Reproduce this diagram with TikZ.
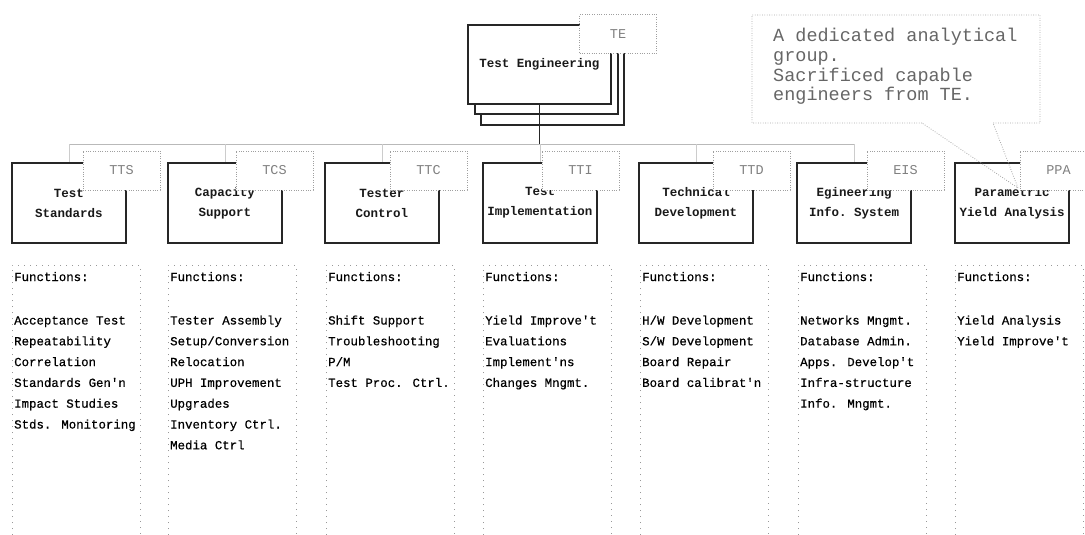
\documentclass[tikz,border=0pt]{standalone}
\usepackage{fontspec}
\setmonofont{Liberation Mono}
\newfontfamily\medmono[FakeBold=0.5]{Liberation Mono}
% a left-aligned column whose baseline is that of its first line
\newcommand{\toplist}[1]{\begin{tabular}[t]{@{}l@{}}#1\end{tabular}}
\begin{document}
\begin{tikzpicture}[x=1pt,y=-1pt,
  unitbox/.style={draw=black!85, line width=1.2pt, fill=white,
    minimum width=114pt, minimum height=80pt, inner sep=0pt, align=center,
    font=\ttfamily\bfseries\fontsize{12.5}{20}\selectfont, text=black!90},
  tebox/.style={draw=black!85, line width=1.2pt, fill=white,
    minimum width=143pt, minimum height=79pt, inner sep=0pt, align=center,
    font=\ttfamily\bfseries\fontsize{12.5}{20}\selectfont, text=black!90},
  tagbox/.style={draw=gray!75, line width=0.8pt, dash pattern=on 0.8pt off 1.6pt,
    fill=white, minimum width=77pt, minimum height=39pt, inner sep=0pt,
    font=\ttfamily\fontsize{13.5}{16}\selectfont, text=black!50},
  fnframe/.style={draw=gray!80, line width=1pt, dash pattern=on 1pt off 5pt},
  fntext/.style={anchor=base west, inner sep=0pt,
    font=\medmono\fontsize{12.4}{20.8}\selectfont, text=black},
  busline/.style={draw=gray!55, line width=0.9pt},
  dropline/.style={draw=gray!40, line width=0.9pt},
  stem/.style={draw=black!85, line width=1.2pt},
  callout/.style={draw=gray!70, line width=0.8pt, dash pattern=on 0.8pt off 1.6pt},
  notetext/.style={anchor=base west, inner sep=0pt,
    font=\ttfamily\fontsize{18.5}{19.7}\selectfont, text=black!60}
]
\useasboundingbox (0,0) rectangle (1085,535);

% bus linking the sections
\coordinate (busL) at (69,144);
\coordinate (busR) at (854,144);
\draw[busline] (busL) -- (busR);

% head of the organisation, drawn as a stack
\node[tebox] (te3) at (552.5,85.5) {};
\node[tebox] (te2) at (546.5,74.5) {};
\node[tebox] (te) at (539.5,64.5) {Test Engineering};
\node[tagbox] (tetag) at (618,34) {TE};
\draw[stem] (te.south) -- (te.south |- busL);

% sections
\node[unitbox] (u1) at (69,203) {Test\\Standards};
\node[unitbox] (u2) at (225,203) {Capacity\\Support};
\node[unitbox] (u3) at (382,203) {Tester\\Control};
\node[unitbox] (u4) at (540,203) {Test\\Implementation};
\node[unitbox] (u5) at (696,203) {Technical\\Development};
\node[unitbox] (u6) at (854,203) {Egineering\\Info. System};
\node[unitbox] (u7) at (1012,203) {Parametric\\Yield Analysis};

\foreach \u in {u1,u2,u3,u4,u5,u6}
  \draw[dropline] (\u.north |- busL) -- (\u.north);

% section codes
\node[tagbox] (t1) at (121.5,170.5) {TTS};
\node[tagbox] (t2) at (274.5,170.5) {TCS};
\node[tagbox] (t3) at (428.5,170.5) {TTC};
\node[tagbox] (t4) at (580.5,170.5) {TTI};
\node[tagbox] (t5) at (751.5,170.5) {TTD};
\node[tagbox] (t6) at (905.5,170.5) {EIS};
\node[tagbox] (t7) at (1058.5,170.5) {PPA};

% function columns
\foreach \l in {12,168,326,483,640,798,955}
  \draw[fnframe] (\l,535) -- (\l,265) -- (\l+128,265) -- (\l+128,535);

\node[fntext] (f1) at (14,281) {\toplist{Functions:\\[22.7pt]Acceptance Test\\Repeatability\\Correlation\\Standards Gen'n\\Impact Studies\\Stds. Monitoring}};
\node[fntext] (f2) at (170,281) {\toplist{Functions:\\[22.7pt]Tester Assembly\\Setup/Conversion\\Relocation\\UPH Improvement\\Upgrades\\Inventory Ctrl.\\Media Ctrl}};
\node[fntext] (f3) at (328,281) {\toplist{Functions:\\[22.7pt]Shift Support\\Troubleshooting\\P/M\\Test Proc. Ctrl.}};
\node[fntext] (f4) at (485,281) {\toplist{Functions:\\[22.7pt]Yield Improve't\\Evaluations\\Implement'ns\\Changes Mngmt.}};
\node[fntext] (f5) at (642,281) {\toplist{Functions:\\[22.7pt]H/W Development\\S/W Development\\Board Repair\\Board calibrat'n}};
\node[fntext] (f6) at (800,281) {\toplist{Functions:\\[22.7pt]Networks Mngmt.\\Database Admin.\\Apps. Develop't\\Infra-structure\\Info. Mngmt.}};
\node[fntext] (f7) at (957,281) {\toplist{Functions:\\[22.7pt]Yield Analysis\\Yield Improve't}};

% remark about the analytical group
\draw[callout] (922,123) -- (752,123) -- (752,15) -- (1040,15) -- (1040,123)
  -- (993,123) -- (1018,188) -- cycle;
\node[notetext] (note) at (773,41.7) {\toplist{A dedicated analytical\\group.\\Sacrificed capable\\engineers from TE.}};
\end{tikzpicture}
\end{document}
